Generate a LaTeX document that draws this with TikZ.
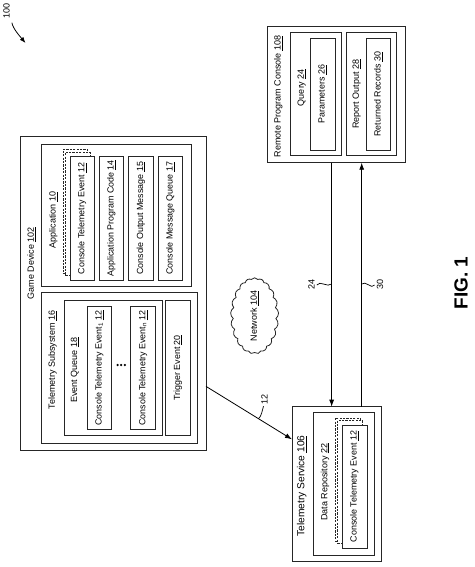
\documentclass[tikz,border=0pt]{standalone}
\usepackage{fontspec}
\setmainfont{Liberation Sans}
\usetikzlibrary{shapes.symbols,arrows.meta,calc}
\newcommand\rtxt[1]{\rotatebox{90}{#1}}
\newcommand\un[1]{\underline{#1}}
\begin{document}
\begin{tikzpicture}[x=1pt,y=-1pt,
  box/.style={draw=black!85, line width=0.9pt, inner sep=0pt, outer sep=0pt, fill=white,
    font=\fontsize{8.9}{9.5}\selectfont},
  dbox/.style={box, dash pattern=on 2.2pt off 1.2pt},
  lbl/.style={inner sep=0pt, font=\fontsize{9}{9.5}\selectfont},
  arr/.style={draw=black, line width=0.8pt, -{Latex[length=7pt,width=5pt]}},
  lead/.style={draw=black, line width=0.7pt}]
\useasboundingbox (0,0) rectangle (474,567);

% ---------- Game device ----------
\node[box, minimum width=185.3, minimum height=314] (gd) at (113.35,293.7) {};
\node[lbl] (gdl) at (31.7,263) {\rtxt{Game Device \un{102}}};

\node[box, minimum width=149.3, minimum height=141.7] (app) at (116.35,215.15) {};
\node[lbl] (appl) at (53.3,220) {\rtxt{Application \un{10}}};
\node[dbox, minimum width=24.5, minimum height=123.3] (acted2) at (75.2,211.35) {};
\node[dbox, minimum width=24.5, minimum height=123.3] (acted1) at (77.7,213.85) {};
\node[box, minimum width=24.5, minimum height=123.3] (acte) at (82.2,218.35) {\rtxt{Console Telemetry Event \un{12}}};
\node[box, minimum width=24.5, minimum height=123.3] (apc) at (111.5,218.35) {\rtxt{Application Program Code \un{14}}};
\node[box, minimum width=24.5, minimum height=123.3] (com) at (141,218.35) {\rtxt{Console Output Message \un{15}}};
\node[box, minimum width=24.5, minimum height=123.3] (cmq) at (170.3,218.35) {\rtxt{Console Message Queue \un{17}}};

\node[box, minimum width=156, minimum height=150.6] (tsub) at (119.7,368) {};
\node[lbl] (tsubl) at (52.7,360) {\rtxt{Telemetry Subsystem \un{16}}};
\node[box, minimum width=98.3, minimum height=135.7] (eq) at (113.15,367.85) {};
\node[lbl] (eql) at (75,370) {\rtxt{Event Queue \un{18}}};
\node[box, minimum width=24.4, minimum height=122.6] (cte1) at (99.5,368) {\rtxt{Console Telemetry Event\textsubscript{1} \un{12}}};
\node[box, minimum width=25, minimum height=122.6] (cten) at (143.2,368) {\rtxt{Console Telemetry Event\textsubscript{n} \un{12}}};
\foreach \xx in {117.6,121.2,124.8}
  \fill (\xx,365) circle[radius=1.25];
\node[box, minimum width=24.3, minimum height=135.7] (trig) at (177.85,367.85) {\rtxt{Trigger Event \un{20}}};

% ---------- Network ----------
\node[cloud, draw=black!85, line width=0.8pt, cloud puffs=21, cloud puff arc=110,
  cloud ignores aspect, minimum width=48, minimum height=76, inner sep=0pt,
  font=\fontsize{9}{9.5}\selectfont] (net) at (254.6,315.8) {\rtxt{Network \un{104}}};

% ---------- Remote program console ----------
\node[box, minimum width=138.4, minimum height=136.7] (rpc) at (336.5,94.35) {};
\node[lbl] (rpcl) at (278.3,96.7) {\rtxt{Remote Program Console \un{108}}};
\node[box, minimum width=51, minimum height=122.3] (query) at (316.2,93.85) {};
\node[lbl] (queryl) at (301.7,87.5) {\rtxt{Query \un{24}}};
\node[box, minimum width=25, minimum height=111.7] (par) at (322.5,94.15) {\rtxt{Parameters \un{26}}};
\node[box, minimum width=50.7, minimum height=122.3] (rep) at (371.35,93.85) {};
\node[lbl] (repl) at (356.7,94) {\rtxt{Report Output \un{28}}};
\node[box, minimum width=24.7, minimum height=111.7] (recs) at (378.35,94.15) {\rtxt{Returned Records \un{30}}};

% ---------- Telemetry service ----------
\node[box, minimum width=89.7, minimum height=155] (ts) at (336.85,484.2) {};
\node[lbl, font=\fontsize{10.2}{11}\selectfont] (tsl) at (301.7,486) {\rtxt{Telemetry Service \un{106}}};
\node[box, minimum width=61.2, minimum height=142.7] (dr) at (343.9,483.65) {};
\node[lbl] (drl) at (325,482) {\rtxt{Data Repository \un{22}}};
\node[dbox, minimum width=25, minimum height=123.3] (tcted2) at (347.5,479.65) {};
\node[dbox, minimum width=25, minimum height=123.3] (tcted1) at (350,482.15) {};
\node[box, minimum width=25, minimum height=123.3] (tcte) at (354.5,486.65) {\rtxt{Console Telemetry Event \un{12}}};

% ---------- Connectors ----------
\draw[arr] (gd.-45.8) -- coordinate[pos=0.61] (m12) (ts.135);
\node[lbl] (l12) at (264.5,399) {\rtxt{12}};
\draw[lead] ($(l12.south)+(-1,2)$) .. controls +(-1,3) and +(3,-2) .. (m12);

\coordinate (r24) at ($(rpc.south west)!0.465!(rpc.south east)$);
\coordinate (r30) at ($(rpc.south west)!0.682!(rpc.south east)$);
\draw[arr] (r24) -- (r24 |- ts.north);
\draw[arr] (r30 |- ts.north) -- (r30);
\node[lbl] (l24) at (311.5,284) {\rtxt{24}};
\node[lbl] (l30) at (380,284) {\rtxt{30}};
\draw[lead] ($(l24.east)+(2,1)$) .. controls +(3,-5) and +(-4,4) .. (r24 |- l24.east);
\draw[lead] (r30 |- l30.west) .. controls +(4,-4) and +(-3,5) .. ($(l30.west)+(-2,1)$);

% ---------- Figure labels ----------
\node[lbl] (l100) at (6.5,11) {\rtxt{100}};
\draw[arr, -{Latex[length=6pt,width=4.5pt]}] ($(l100.south east)+(2,4)$) .. controls +(1,6) and +(-5,-6) .. (25.5,43);
\node[inner sep=0pt, font=\bfseries\fontsize{19}{20}\selectfont] (fig) at (461,283) {\rtxt{FIG. 1}};
\end{tikzpicture}
\end{document}
